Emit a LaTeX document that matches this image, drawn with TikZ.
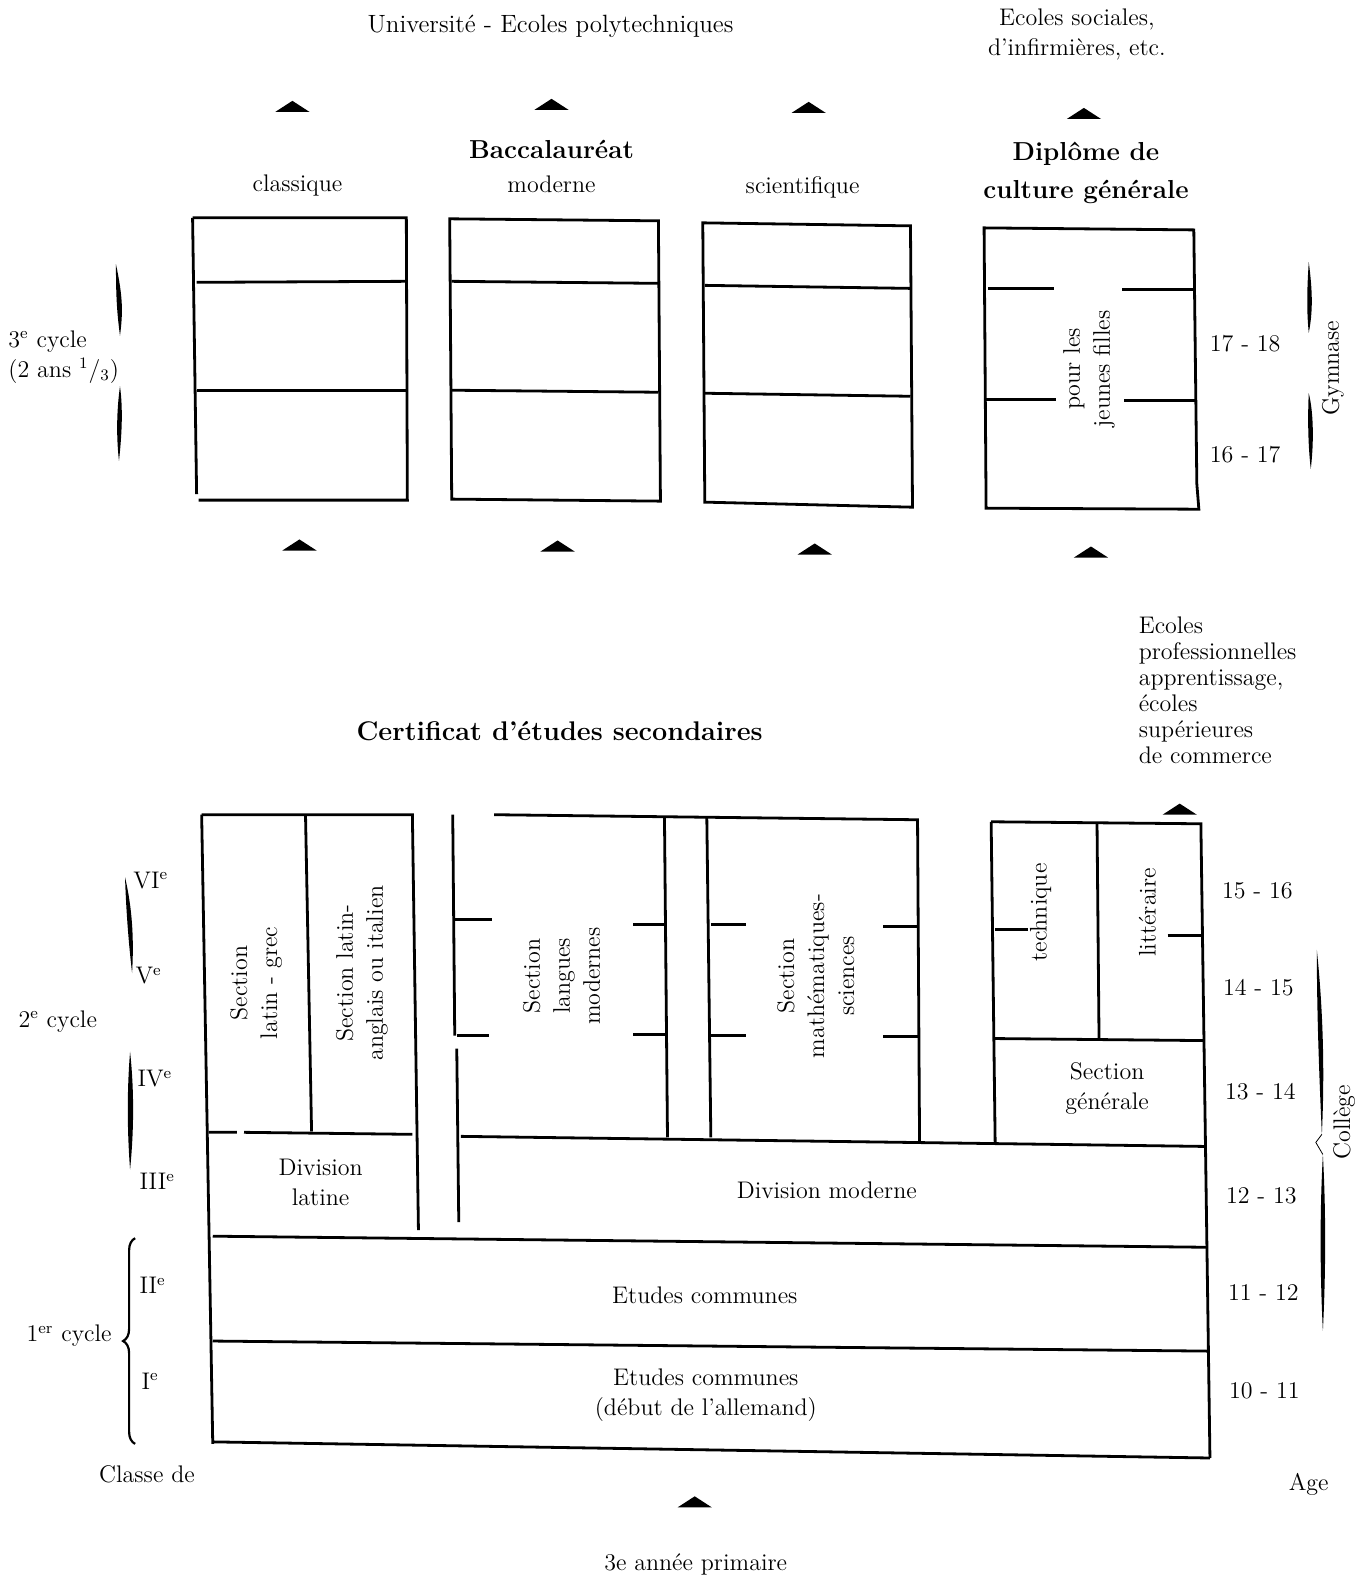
\documentclass[tikz,border=0pt]{standalone}
\usepackage{fontspec}
\usetikzlibrary{decorations.pathreplacing}
\begin{document}
\begin{tikzpicture}[x=0.50407pt,y=-0.50407pt,
  frame/.style={line width=1.4pt},
  lbl/.style={font=\fontsize{12}{15}\selectfont, inner sep=0pt, align=center},
  lbll/.style={lbl, align=left, anchor=west},
  hd/.style={font=\fontsize{13}{19}\selectfont\bfseries, inner sep=0pt, align=center},
  pics/uptri/.style={code={\fill (-17,5) -- (0,-6) -- (17,5) -- cycle;}}
]
\useasboundingbox (0,0) rectangle (1351,1568);

% ---------- top texts ----------
\node[lbl, font=\fontsize{12.5}{15}\selectfont] (univ) at (546,26) {Universit\'e - Ecoles polytechniques};
\node[lbl] (soc) at (1068,34) {Ecoles sociales,\\d'infirmi\`eres, etc.};
\node[hd] (bac) at (547,148) {Baccalaur\'eat};
\node[lbl] (clas) at (295,184) {classique};
\node[lbl] (mod) at (547,183) {moderne};
\node[lbl] (sci) at (796,186) {scientifique};
\node[hd] (dipl) at (1077,171) {Dipl\^ome de\\culture g\'en\'erale};

% arrows (triangles)
\pic at (290,106) {uptri};
\pic at (547,104) {uptri};
\pic at (802,107) {uptri};
\pic at (1075,113) {uptri};
\pic at (297,541) {uptri};
\pic at (553,542) {uptri};
\pic at (808,545) {uptri};
\pic at (1082,548) {uptri};
\pic at (1170,803) {uptri};
\pic at (689,1490) {uptri};

% ---------- top boxes ----------
\draw[frame] (191,216) -- (403,216) -- (404,496) -- (197,496);
\draw[frame] (191,216) -- (195,490);
\draw[frame] (195,280) -- (403,279);
\draw[frame] (195,387) -- (403,387);

\draw[frame] (446,217) -- (653,219) -- (655,497) -- (448,495) -- cycle;
\draw[frame] (448,279) -- (653,281);
\draw[frame] (448,387) -- (653,389);

\draw[frame] (697,221) -- (903,224) -- (905,503) -- (699,498) -- cycle;
\draw[frame] (699,283) -- (903,286);
\draw[frame] (699,390) -- (903,393);

\draw[frame] (976,226) -- (1184,228) -- (1187,480) -- (1189,505) -- (978,504) -- cycle;
\draw[frame] (980,286) -- (1045,286) (1113,287) -- (1184,287);
\draw[frame] (978,396) -- (1047,396) (1115,397) -- (1185,397);
\node[lbl, rotate=90] (filles) at (1080,366) {pour les\\jeunes filles};

% left / right labels of top part
\node[lbll] (c3) at (8,354) {3\textsuperscript{e} cycle\\(2 ans \textsuperscript{1}/\textsubscript{3})};
\fill (115,262) .. controls (122,295) and (122,310) .. (119,333) .. controls (116,310) and (115,295) .. cycle;
\fill (119,383) .. controls (122,405) and (121,430) .. (118,457) .. controls (115,430) and (116,405) .. cycle;
\node[lbl] (a1718) at (1235,341) {17 - 18};
\node[lbl] (a1617) at (1235,451) {16 - 17};
\fill (1298,260) .. controls (1302,290) and (1302,310) .. (1298,330) .. controls (1296,310) and (1296,290) .. cycle;
\fill (1298,390) .. controls (1303,410) and (1303,440) .. (1300,465) .. controls (1297,440) and (1297,410) .. cycle;
\node[lbl, rotate=90] (gym) at (1322,365) {Gymnase};

% ---------- middle texts ----------
\node[hd, font=\fontsize{13.5}{17}\selectfont\bfseries] (cert) at (555,725) {Certificat d'\'etudes secondaires};
\node[lbll, font=\fontsize{12}{13}\selectfont] (prof) at (1129,685) {Ecoles\\professionnelles\\apprentissage,\\\'ecoles\\sup\'erieures\\de commerce};

% ---------- lower block ----------
% latin part
\draw[frame] (200,808) -- (409,808) -- (415,1220);
\draw[frame] (200,808) -- (211,1432);
\draw[frame] (303,808) -- (309,1122);
\draw[frame] (207,1123) -- (235,1123) (242,1123) -- (409,1125);
\node[lbl, rotate=90] (llg) at (254,975) {Section\\latin - grec};
\node[lbl, rotate=90] (lla) at (359,965) {Section latin-\\anglais ou italien};
\node[lbl] (divl) at (318,1173) {Division\\latine};

% separator
\draw[frame] (449,808) -- (451,1027);
\draw[frame] (453,1040) -- (455,1212);
\draw[frame] (451,912) -- (488,912);
\draw[frame] (453,1027) -- (485,1027);

% langues modernes / math-sciences
\draw[frame] (490,808) -- (910,813) -- (912,1133);
\draw[frame] (659,810) -- (662,1128);
\draw[frame] (701,811) -- (705,1128);
\draw[frame] (628,917) -- (660,917) (628,1026) -- (661,1026);
\draw[frame] (705,917) -- (740,917) (705,1027) -- (740,1027);
\draw[frame] (876,919) -- (911,919) (876,1028) -- (911,1028);
\node[lbl, rotate=90] (slm) at (557,968) {Section\\langues\\modernes};
\node[lbl, rotate=90] (sms) at (809,968) {Section\\math\'ematiques-\\sciences};

% right part
\draw[frame] (983,815) -- (1191,817) -- (1200,1446);
\draw[frame] (983,815) -- (987,1135);
\draw[frame] (1088,816) -- (1090,1030);
\draw[frame] (987,1030) -- (1193,1032);
\draw[frame] (987,922) -- (1020,922) (1158,928) -- (1193,928);
\node[lbl, rotate=90] (tech) at (1032,905) {technique};
\node[lbl, rotate=90] (litt) at (1138,905) {litt\'eraire};
\node[lbl] (sgen) at (1098,1080) {Section\\g\'en\'erale};

% division moderne and common
\draw[frame] (457,1127) -- (1195,1137);
\node[lbl] (divm) at (820,1180) {Division moderne};
\draw[frame] (211,1226) -- (1197,1237);
\node[lbl] (ec1) at (699,1285) {Etudes communes};
\draw[frame] (211,1330) -- (1199,1340);
\node[lbl] (ec2) at (700,1384) {Etudes communes\\(d\'ebut de l'allemand)};
\draw[frame] (211,1430) -- (1200,1446);

% left classes
\node[lbll] (c6) at (132,873) {VI\textsuperscript{e}};
\node[lbll] (c5) at (134,968) {V\textsuperscript{e}};
\node[lbll] (cy2) at (18,1013) {2\textsuperscript{e} cycle};
\node[lbll] (c4) at (136,1070) {IV\textsuperscript{e}};
\node[lbll] (c3b) at (138,1172) {III\textsuperscript{e}};
\node[lbll] (c2) at (138,1275) {II\textsuperscript{e}};
\node[lbll] (cy1) at (26,1325) {1\textsuperscript{er} cycle};
\node[lbll] (c1) at (140,1370) {I\textsuperscript{e}};
\node[lbll] (cls) at (98,1462) {Classe de};
\fill (124,870) .. controls (131,900) and (133,930) .. (131,965) .. controls (127,930) and (125,900) .. cycle;
\fill (129,1043) .. controls (133,1080) and (133,1120) .. (129,1160) .. controls (126,1120) and (126,1080) .. cycle;
\draw[line width=1.1pt, decorate, decoration={brace, amplitude=6pt}] (134,1432) -- (134,1228);

% right ages
\node[lbl] (g1516) at (1247,883) {15 - 16};
\node[lbl] (g1415) at (1248,980) {14 - 15};
\node[lbl] (g1314) at (1250,1083) {13 - 14};
\node[lbl] (g1213) at (1251,1186) {12 - 13};
\node[lbl] (g1112) at (1253,1282) {11 - 12};
\node[lbl] (g1011) at (1254,1379) {10 - 11};
\node[lbl] (age) at (1298,1472) {Age};
\fill (1306,942) .. controls (1312,1000) and (1314,1060) .. (1311,1125) .. controls (1308,1060) and (1306,1000) .. cycle;
\draw[line width=0.4pt] (1311,1125) -- (1305,1133) -- (1312,1145);
\fill (1312,1145) .. controls (1315,1200) and (1315,1260) .. (1312,1320) .. controls (1309,1260) and (1309,1200) .. cycle;
\node[lbl, rotate=90] (coll) at (1333,1113) {Coll\`ege};

% bottom
\node[lbl] (prim) at (690,1552) {3e ann\'ee primaire};
\end{tikzpicture}
\end{document}
